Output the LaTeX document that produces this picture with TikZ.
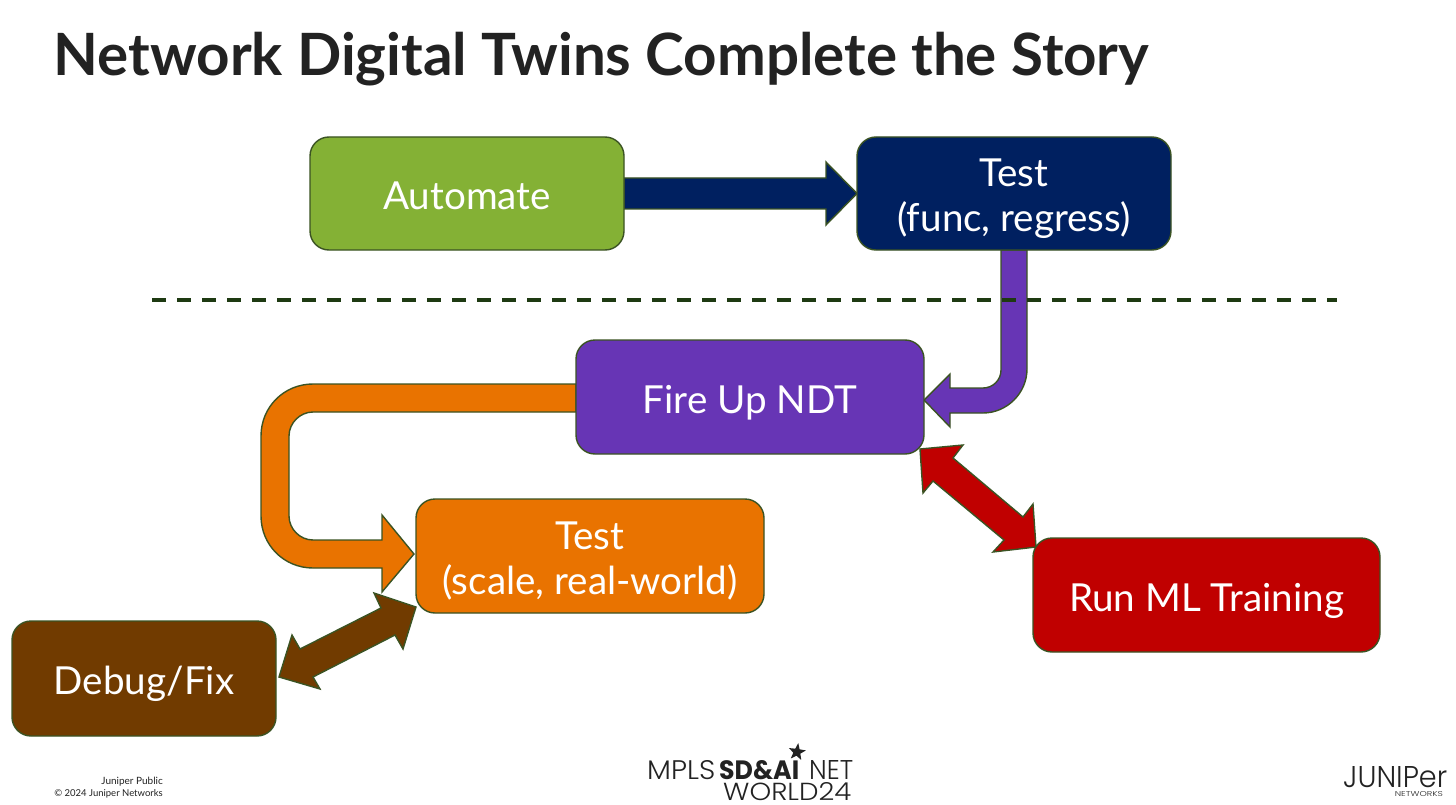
\documentclass[tikz,border=0pt]{standalone}
\usepackage{fontspec}
\setmainfont{Lato}
\newfontfamily\logofont{Poppins Light}
\newfontfamily\logobold{Poppins}
\usetikzlibrary{calc,shapes.geometric,backgrounds}
\definecolor{edgegreen}{HTML}{3B5323}
\definecolor{dashgreen}{HTML}{1E3A12}
\definecolor{cgreen}{HTML}{84B135}
\definecolor{cnavy}{HTML}{002060}
\definecolor{cpurple}{HTML}{6735B5}
\definecolor{corange}{HTML}{E97300}
\definecolor{cred}{HTML}{C00000}
\definecolor{cbrown}{HTML}{713B00}
\definecolor{ink}{HTML}{222222}
\newcommand{\boxtxt}[1]{\raisebox{-7pt}[\height][\depth]{\begin{tabular}{@{}c@{}}#1\end{tabular}}}
\tikzset{
  stepbox/.style={draw=edgegreen,line width=1.4pt,rounded corners=19pt,text=white,
    font=\fontsize{38.6}{45}\selectfont,inner sep=0pt,outer sep=0pt},
  blockarrow/.style={draw=edgegreen,line width=1.4pt,line join=miter},
}
\begin{document}
\begin{tikzpicture}[x=1pt,y=-1pt]
\useasboundingbox (0,0) rectangle (1456,805);

\node[anchor=base west,inner sep=0pt,text=ink,font=\fontsize{58.3}{66}\selectfont\bfseries] (title) at (53.5,76) {Network Digital Twins Complete the Story};

% boxes
\node[stepbox,minimum width=314pt,minimum height=113pt,fill=cgreen] (auto) at (467,193.5) {\boxtxt{Automate}};
\node[stepbox,minimum width=314pt,minimum height=113pt,fill=cnavy] (test1) at (1014,193.5) {\boxtxt{Test\\(func, regress)}};
\node[stepbox,minimum width=348pt,minimum height=114pt,fill=cpurple] (fire) at (750,397) {\boxtxt{Fire Up NDT}};
\node[stepbox,minimum width=348pt,minimum height=114pt,fill=corange] (test2) at (590,556) {\boxtxt{Test\\(scale, real-world)}};
\node[stepbox,minimum width=347pt,minimum height=114pt,fill=cred] (run) at (1206.5,595) {\boxtxt{Run ML Training}};
\node[stepbox,minimum width=264pt,minimum height=115pt,fill=cbrown] (debug) at (144,678.5) {\boxtxt{Debug/Fix}};

% arrows, behind the boxes
\begin{scope}[on background layer]
\fill[white] (0,0) rectangle (1456,805);
\filldraw[blockarrow,fill=cnavy]
  ($(auto.east)+(0,-15.5)$) -- (826,178) -- (826,162) -- (test1.west) -- (826,225) -- (826,209) -- ($(auto.east)+(0,15.5)$) -- cycle;

\filldraw[blockarrow,fill=cpurple]
  ($(test1.south)+(-13,0)$) -- (1001,370) .. controls (1001,380) and (993,388) .. (983,388)
  -- (950,388) -- (950,374) -- ($(fire.east)+(0,3)$) -- (950,427) -- (950,413) -- (983,413)
  .. controls (1007,413) and (1027,393) .. (1027,369) -- ($(test1.south)+(13,0)$) -- cycle;

\filldraw[blockarrow,fill=corange]
  ($(fire.west)+(0,-13)$) -- (313,384) .. controls (284,384) and (261,407) .. (261,436)
  -- (261,516) .. controls (261,545) and (284,568) .. (313,568)
  -- (382,568) -- (382,592) -- ($(test2.west)+(-2,-2)$) -- (382,515) -- (382,540) -- (313,540)
  .. controls (300,540) and (289,529) .. (289,516) -- (289,436)
  .. controls (289,423) and (300,412) .. (313,412) -- ($(fire.west)+(0,15)$) -- cycle;

\filldraw[blockarrow,fill=cred]
  ($(fire.south east)+(-4,-5)$) -- (963,445) -- (953,458) -- (1023,517) -- (1033,504)
  -- ($(run.north west)+(3,9)$) -- (993,552) -- (1004,540) -- (933,481) -- (923,493) -- cycle;

\filldraw[blockarrow,fill=cbrown]
  ($(debug.east)+(3,-1.5)$) -- (292,635) -- (300,649) -- (381,608) -- (374,593)
  -- ($(test2.south west)+(0,-6)$) -- (403,649) -- (395,635) -- (313,677) -- (320,689) -- cycle;
\end{scope}

% divider
\coordinate (divL) at (152,300);
\coordinate (divR) at (1337,300);
\draw[dashgreen,line width=3.6pt,dash pattern=on 14pt off 11pt] (divL) -- (divR);

% footer
\node[anchor=base east,inner sep=0pt,text=ink,font=\fontsize{10}{11.5}\selectfont] (foot) at (163,784) {Juniper Public};
\node[anchor=base east,inner sep=0pt,text=ink,font=\fontsize{9.5}{11.5}\selectfont] (foot2) at (163,796) {© 2024 Juniper Networks};

% conference logo
\node[anchor=north west,inner sep=0pt,text=ink] (mpls) at (647,760) {\resizebox{68pt}{19pt}{\logofont MPLS}};
\node[anchor=north west,inner sep=0pt,text=ink] (sdai) at (719,760) {\resizebox{80pt}{19pt}{\logobold\bfseries SD\&AI}};
\node[anchor=north west,inner sep=0pt,text=ink] (net) at (809,760) {\resizebox{44pt}{19pt}{\logofont NET}};
\node[anchor=north west,inner sep=0pt,text=ink] (world) at (723,782) {\resizebox{128pt}{18pt}{\logofont WORLD24}};
\node[star,star points=5,star point ratio=2.4,fill=ink,inner sep=0pt,minimum size=18pt,rotate=-8] (starmark) at (797,752) {};

% vendor logo
\node[anchor=north west,inner sep=0pt,text=ink] (jun) at (1343,766) {\resizebox{104pt}{21pt}{\logofont JUNIPer}};
\node[anchor=north east,inner sep=0pt,text=ink] (netw) at (1443,791) {\resizebox{48pt}{5pt}{\logofont NETWORKS}};
\end{tikzpicture}
\end{document}
